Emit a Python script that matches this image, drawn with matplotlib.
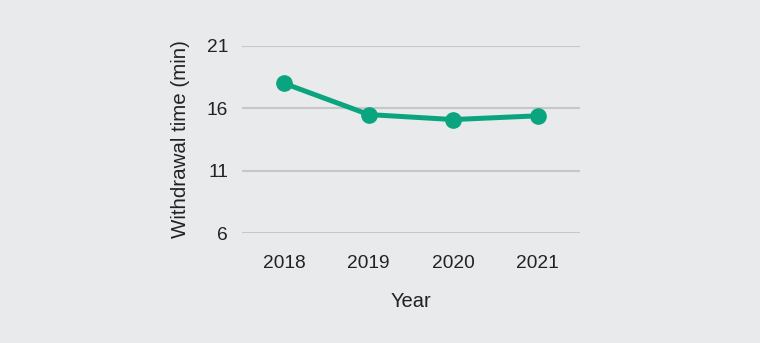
import matplotlib
matplotlib.use("Agg")
import matplotlib.pyplot as plt

years = ["2018", "2019", "2020", "2021"]
withdrawal_time = [18.0, 15.5, 15.1, 15.4]
y_ticks = [6, 11, 16, 21]

bg = "#e9eaec"
green = "#0aa57f"

plt.rcParams['font.family'] = ['Liberation Sans', 'DejaVu Sans']

fig = plt.figure(figsize=(7.6, 3.43), dpi=100, facecolor=bg)
ax = fig.add_axes([242/760, 1-233/343, (580-242)/760, (233-46)/343])
ax.set_facecolor(bg)

x = list(range(len(years)))
ax.plot(x, withdrawal_time, color=green, linewidth=3.6, marker='o', markersize=11,
        zorder=3, solid_capstyle='round')

ax.set_xlim(-0.5, len(years) - 0.5)
ax.set_ylim(6, 21)
ax.set_yticks(y_ticks)
ax.set_yticklabels([str(t) for t in y_ticks])
ax.set_xticks(x)
ax.set_xticklabels(years)

ax.grid(axis='y', color='#c6c7c9', linewidth=1.5, zorder=0)
ax.set_axisbelow(True)
for s in ax.spines.values():
    s.set_visible(False)
ax.tick_params(axis='both', length=0, labelsize=13.8, colors='#222222')
ax.tick_params(axis='y', pad=10)
ax.tick_params(axis='x', pad=16)

ax.set_ylabel("Withdrawal time (min)", fontsize=14.8, color='#222222', labelpad=12)
ax.set_xlabel("Year", fontsize=14.5, color='#222222', labelpad=14)

fig.savefig("out.png", dpi=100, facecolor=bg)
